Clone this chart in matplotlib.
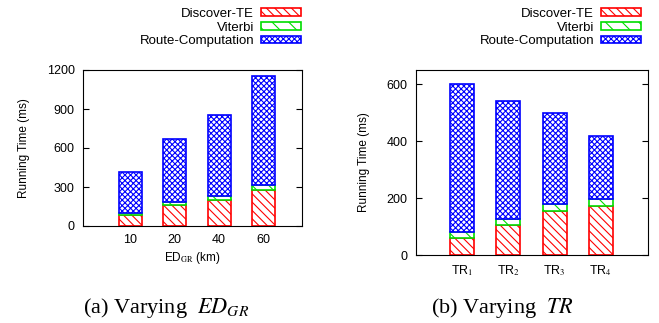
import numpy as np
import matplotlib.pyplot as plt

plt.rcParams['font.family'] = ['Liberation Sans', 'DejaVu Sans']
plt.rcParams['mathtext.fontset'] = 'stix'
plt.rcParams['hatch.linewidth'] = 0.8

# Data (ms)
ed_labels = ['10', '20', '40', '60']
ed_discover = [85, 158, 203, 280]
ed_viterbi = [17, 30, 28, 33]
ed_route = [314, 485, 620, 844]

tr_labels = ['TR$_1$', 'TR$_2$', 'TR$_3$', 'TR$_4$']
tr_discover = [60, 104, 156, 171]
tr_viterbi = [21, 23, 23, 27]
tr_route = [519, 413, 319, 220]

series_names = ['Discover-TE', 'Viterbi', 'Route-Computation']
colors = ['#ff0000', '#00dd00', '#0000ff']
hatches = ['\\\\\\\\', '\\\\', 'xxxxxx']

fig = plt.figure(figsize=(6.59, 3.23), dpi=100)
ax1 = fig.add_axes([83 / 659, 1 - 226 / 323, 219 / 659, 156 / 323])
ax2 = fig.add_axes([416 / 659, 1 - 255 / 323, 232 / 659, 185 / 323])


def stacked(ax, labels, parts):
    x = np.arange(len(labels))
    bottom = np.zeros(len(labels))
    handles = []
    for vals, c, h, name in zip(parts, colors, hatches, series_names):
        b = ax.bar(x, vals, 0.52, bottom=bottom, color='white', edgecolor=c,
                   hatch=h, linewidth=1.2, label=name)
        handles.append(b)
        bottom += np.array(vals)
    ax.set_xticks(x)
    ax.set_xticklabels(labels)
    ax.tick_params(direction='in', length=4, labelsize=9, top=False, right=True)
    ax.tick_params(axis='y', pad=6)
    ax.tick_params(axis='x', length=0, pad=6)
    ax.set_ylabel('Running Time (ms)', fontsize=8.5, labelpad=12)
    return handles


h = stacked(ax1, ed_labels, [ed_discover, ed_viterbi, ed_route])
ax1.set_xlim(-1.07, 3.87)
ax1.set_ylim(0, 1200)
ax1.set_yticks([0, 300, 600, 900, 1200])
ax1.set_xlabel('ED$_{\\mathrm{GR}}$ (km)', fontsize=8.5, labelpad=3)

stacked(ax2, tr_labels, [tr_discover, tr_viterbi, tr_route])
ax2.set_xlim(-1.0, 4.02)
ax2.set_ylim(0, 650)
ax2.set_yticks([0, 200, 400, 600])

for anchor in [(301 / 659, 1 - 8 / 323), (641 / 659, 1 - 8 / 323)]:
    fig.legend(handles=h, labels=series_names, loc='upper right',
               bbox_to_anchor=anchor, frameon=False, markerfirst=False,
               fontsize=9.5, handlelength=3.0, handleheight=0.55,
               labelspacing=0.12, handletextpad=0.55, borderaxespad=0,
               borderpad=0)

fig.text(166 / 659, 1 - 313 / 323, '(a) Varying  $ED_{GR}$', fontsize=16,
         family='Liberation Serif', ha='center', va='baseline')
fig.text(502 / 659, 1 - 313 / 323, '(b) Varying  $TR$', fontsize=16,
         family='Liberation Serif', ha='center', va='baseline')

fig.savefig('out.png', dpi=100)
